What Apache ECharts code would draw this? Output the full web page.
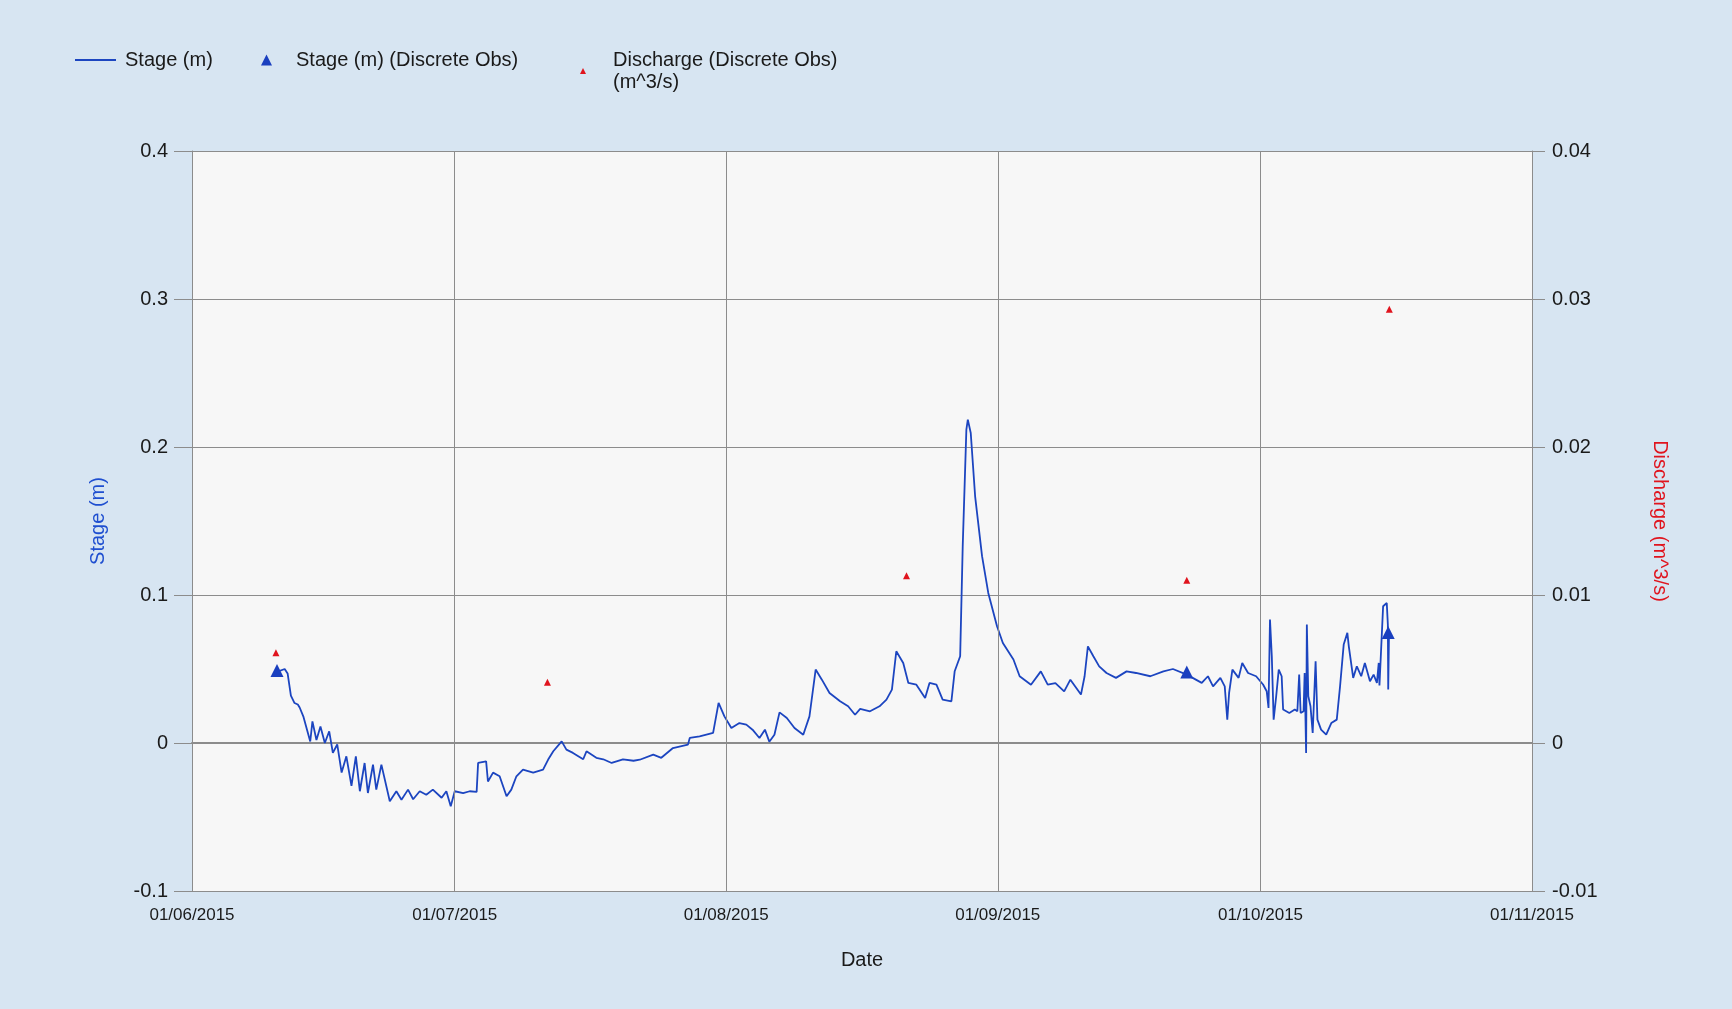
<!DOCTYPE html>
<html>
<head>
<meta charset="utf-8">
<script src="https://cdn.jsdelivr.net/npm/echarts@6/dist/echarts.min.js"></script>
<style>
html,body{margin:0;padding:0;background:#d7e5f2;}
#chart{width:1732px;height:1009px;}
</style>
</head>
<body>
<div id="chart"></div>
<script>
// ---- data ----
const monthTicks = ['2015-06-01 00:00','2015-07-01 00:00','2015-08-01 00:00','2015-09-01 00:00','2015-10-01 00:00','2015-11-01 00:00'];

const stageTimes = [
'2015-06-10 17:00','2015-06-10 19:00','2015-06-11 14:00','2015-06-11 22:00','2015-06-12 07:00','2015-06-12 17:00',
'2015-06-13 02:00','2015-06-13 07:00','2015-06-13 17:00','2015-06-14 12:00','2015-06-14 18:00','2015-06-15 05:00',
'2015-06-15 16:00','2015-06-16 04:00','2015-06-16 16:00','2015-06-17 02:00','2015-06-17 14:00','2015-06-18 02:00',
'2015-06-18 15:00','2015-06-19 05:00','2015-06-19 17:00','2015-06-20 04:00','2015-06-20 17:00','2015-06-21 02:00',
'2015-06-21 16:00','2015-06-22 01:00','2015-06-22 15:00','2015-06-23 14:00','2015-06-24 08:00','2015-06-24 22:00',
'2015-06-25 16:00','2015-06-26 06:00','2015-06-27 00:00','2015-06-27 18:00','2015-06-28 12:00','2015-06-29 12:00',
'2015-06-30 01:00','2015-06-30 13:00','2015-07-01 00:00','2015-07-01 23:00','2015-07-02 17:00','2015-07-03 12:00',
'2015-07-03 16:00','2015-07-04 14:00','2015-07-04 19:00','2015-07-05 09:00','2015-07-06 03:00','2015-07-06 22:00',
'2015-07-07 11:00','2015-07-08 01:00','2015-07-08 19:00','2015-07-09 23:00','2015-07-11 02:00','2015-07-11 16:00',
'2015-07-12 06:00','2015-07-13 05:00','2015-07-13 18:00','2015-07-14 12:00','2015-07-15 16:00','2015-07-16 01:00',
'2015-07-17 04:00','2015-07-17 23:00','2015-07-18 22:00','2015-07-20 05:00','2015-07-21 10:00','2015-07-22 03:00',
'2015-07-23 16:00','2015-07-24 14:00','2015-07-25 22:00','2015-07-27 15:00','2015-07-27 20:00','2015-07-28 23:00',
'2015-07-30 12:00','2015-07-31 03:00','2015-07-31 19:00','2015-08-01 14:00','2015-08-02 12:00','2015-08-03 07:00',
'2015-08-04 00:00','2015-08-04 19:00','2015-08-05 10:00','2015-08-05 22:00','2015-08-06 12:00','2015-08-07 02:00',
'2015-08-07 22:00','2015-08-08 19:00','2015-08-09 19:00','2015-08-10 12:00','2015-08-11 05:00','2015-08-11 22:00',
'2015-08-12 19:00','2015-08-14 00:00','2015-08-14 22:00','2015-08-15 17:00','2015-08-16 07:00','2015-08-17 10:00',
'2015-08-18 12:00','2015-08-19 07:00','2015-08-19 22:00','2015-08-20 10:00','2015-08-21 05:00','2015-08-21 19:00',
'2015-08-22 17:00','2015-08-23 17:00','2015-08-24 05:00','2015-08-25 00:00','2015-08-25 17:00','2015-08-26 17:00',
'2015-08-27 02:00','2015-08-27 17:00','2015-08-28 00:00','2015-08-28 10:00','2015-08-28 14:00','2015-08-28 22:00',
'2015-08-29 10:00','2015-08-30 05:00','2015-08-30 22:00','2015-08-31 22:00','2015-09-01 14:00','2015-09-02 19:00',
'2015-09-03 12:00','2015-09-04 19:00','2015-09-05 22:00','2015-09-06 17:00','2015-09-07 14:00','2015-09-08 14:00',
'2015-09-09 07:00','2015-09-10 12:00','2015-09-10 22:00','2015-09-11 07:00','2015-09-11 22:00','2015-09-12 14:00',
'2015-09-13 10:00','2015-09-14 12:00','2015-09-15 17:00','2015-09-16 19:00','2015-09-18 10:00','2015-09-19 22:00',
'2015-09-21 00:00','2015-09-22 14:00','2015-09-24 07:00','2015-09-25 00:00','2015-09-25 14:00','2015-09-26 10:00',
'2015-09-26 22:00','2015-09-27 05:00','2015-09-27 10:00','2015-09-27 19:00','2015-09-28 12:00','2015-09-28 22:00',
'2015-09-29 14:00','2015-09-30 12:00','2015-10-01 07:00','2015-10-01 17:00','2015-10-01 22:00','2015-10-02 02:00',
'2015-10-02 07:00','2015-10-02 12:00','2015-10-02 19:00','2015-10-03 02:00','2015-10-03 10:00','2015-10-03 14:00',
'2015-10-04 07:00','2015-10-04 22:00','2015-10-05 05:00','2015-10-05 10:00','2015-10-05 14:00','2015-10-05 22:00',
'2015-10-06 01:00','2015-10-06 05:00','2015-10-06 07:00','2015-10-06 11:00','2015-10-06 17:00','2015-10-06 23:00',
'2015-10-07 07:00','2015-10-07 12:00','2015-10-07 22:00','2015-10-08 12:00','2015-10-09 02:00','2015-10-09 17:00',
'2015-10-10 02:00','2015-10-10 12:00','2015-10-10 22:00','2015-10-11 02:00','2015-10-11 14:00','2015-10-12 00:00',
'2015-10-12 12:00','2015-10-12 22:00','2015-10-13 12:00','2015-10-13 22:00','2015-10-14 07:00','2015-10-14 12:00',
'2015-10-14 14:00','2015-10-14 19:00','2015-10-15 00:00','2015-10-15 10:00','2015-10-15 13:00','2015-10-15 14:00',
'2015-10-15 16:00'
];
const stageValues = [
0.048,0.047,0.050,0.047,0.032,0.027,
0.026,0.024,0.018,0.001,0.0146,0.002,
0.0112,0.000,0.0079,-0.0067,-0.001,-0.020,
-0.009,-0.029,-0.009,-0.0326,-0.0135,-0.0338,
-0.0146,-0.0315,-0.0146,-0.0394,-0.0326,-0.0383,
-0.0315,-0.038,-0.0326,-0.035,-0.0315,-0.037,
-0.0326,-0.0427,-0.0326,-0.0338,-0.0326,-0.033,
-0.0135,-0.0124,-0.026,-0.020,-0.0225,-0.036,
-0.0315,-0.0225,-0.018,-0.020,-0.018,-0.0112,
-0.0056,0.0011,-0.0045,-0.0067,-0.011,-0.0056,
-0.010,-0.011,-0.0135,-0.011,-0.012,-0.0113,
-0.0079,-0.010,-0.0034,-0.0011,0.0034,0.0045,
0.0068,0.0271,0.018,0.0101,0.0135,0.0124,
0.009,0.0034,0.009,0.0009,0.0056,0.0207,
0.0169,0.0101,0.0056,0.018,0.0496,0.0428,
0.0338,0.0282,0.0248,0.0191,0.0230,0.0214,
0.0248,0.0293,0.0361,0.0620,0.0541,0.0406,
0.0394,0.0304,0.0406,0.0394,0.0293,0.0282,
0.0485,0.0586,0.1329,0.2117,0.2185,0.2095,
0.1667,0.1262,0.1014,0.0789,0.0676,0.0564,
0.0451,0.0394,0.0484,0.0394,0.0405,0.0349,
0.0428,0.0327,0.0451,0.0653,0.0586,0.0518,
0.0473,0.0440,0.0484,0.0473,0.0451,0.0484,
0.0500,0.0462,0.0406,0.0451,0.0383,0.0440,
0.0383,0.0158,0.0338,0.0496,0.0440,0.0541,
0.0473,0.0451,0.0395,0.0350,0.0237,0.0834,
0.0586,0.0158,0.0316,0.0496,0.0451,0.0226,
0.0203,0.0226,0.0215,0.0462,0.0203,0.0215,
0.0473,-0.0068,0.0800,0.0316,0.0248,0.0068,
0.0552,0.0158,0.0090,0.0056,0.0135,0.0158,
0.0383,0.0665,0.0744,0.0653,0.0440,0.0518,
0.0451,0.0541,0.0417,0.0462,0.0406,0.0541,
0.0389,0.0383,0.0924,0.0946,0.0800,0.0361,
0.0720
];

const stageObsTimes = ['2015-06-10 17:00','2015-09-22 14:00','2015-10-15 14:00'];
const stageObsValues = [0.049, 0.048, 0.0746];

const dischargeTimes = ['2015-06-10 14:00','2015-07-11 14:00','2015-08-21 14:00','2015-09-22 14:00','2015-10-15 17:00'];
const dischargeValues = [0.0061, 0.0041, 0.0113, 0.0110, 0.0293];

// ---- chart ----
const toTs = s => { const m = s.match(/(\d+)-(\d+)-(\d+) (\d+):(\d+)/); return new Date(+m[1], +m[2]-1, +m[3], +m[4], +m[5]).getTime(); };
const zip = (t, v) => t.map((d, i) => [toTs(d), v[i]]);
const tickValues = monthTicks.map(toTs);
const pad = n => (n < 10 ? '0' : '') + n;
const fmtDate = v => { const d = new Date(v); return pad(d.getDate()) + '/' + pad(d.getMonth()+1) + '/' + d.getFullYear(); };

const FONT = 'Liberation Sans, Arial, sans-serif';
const chart = echarts.init(document.getElementById('chart'), null, {renderer: 'canvas'});
const legendText = {fontFamily: FONT, fontSize: 20, color: '#1a1a1a'};
const option = {
  backgroundColor: '#d7e5f2',
  animation: false,
  legend: [
    {data: ['Stage (m)'], left: 75, top: 50, itemWidth: 41, itemHeight: 2, padding: 0, icon: 'rect',
     itemStyle: {color: '#1c45c0'},
     textStyle: Object.assign({padding: [0,0,0,4]}, legendText)},
    {data: ['Stage (m) (Discrete Obs)'], left: 261, top: 50, itemWidth: 11, itemHeight: 11, padding: 0, icon: 'triangle',
     itemStyle: {color: '#1a3fbf', opacity: 1},
     textStyle: Object.assign({padding: [0,0,0,19]}, legendText)},
    {data: ['Discharge (Discrete Obs)\n(m^3/s)'], left: 580, top: 49, itemWidth: 6, itemHeight: 6, padding: 0, icon: 'triangle',
     itemStyle: {color: '#e0141e', opacity: 1},
     textStyle: Object.assign({padding: [0,0,0,22], lineHeight: 22}, legendText)}
  ],
  grid: {left: 192, right: 200, top: 151, bottom: 118, show: true, backgroundColor: '#f7f7f7', borderWidth: 0, containLabel: false},
  xAxis: {
    type: 'value',
    min: tickValues[0], max: tickValues[tickValues.length-1],
    name: 'Date', nameLocation: 'middle', nameGap: 59,
    nameTextStyle: {fontFamily: FONT, fontSize: 20, color: '#1a1a1a'},
    axisLine: {show: true, lineStyle: {color: '#8c8c8c', width: 2}},
    axisTick: {show: true, customValues: tickValues, length: 10, lineStyle: {color: '#8c8c8c'}},
    axisLabel: {customValues: tickValues, formatter: fmtDate, margin: 16,
      fontFamily: FONT, fontSize: 17, color: '#1a1a1a'},
    splitLine: {show: false}
  },
  yAxis: [
    {
      type: 'value', min: -0.1, max: 0.4, interval: 0.1,
      name: 'Stage (m)', nameLocation: 'middle', nameGap: 84, nameRotate: 90,
      nameTextStyle: {fontFamily: FONT, fontSize: 20, color: '#1f4fd0'},
      axisLine: {show: true, lineStyle: {color: '#8c8c8c', width: 1}},
      axisTick: {show: true, length: 18, lineStyle: {color: '#8c8c8c'}},
      axisLabel: {margin: 24, fontFamily: FONT, fontSize: 20, color: '#1a1a1a',
        formatter: v => String(Math.round(v*10)/10)},
      splitLine: {show: true, lineStyle: {color: '#8c8c8c', width: 1}}
    },
    {
      type: 'value', min: -0.01, max: 0.04, interval: 0.01, position: 'right',
      name: 'Discharge (m^3/s)', nameLocation: 'middle', nameGap: 118, nameRotate: -90,
      nameTextStyle: {fontFamily: FONT, fontSize: 20, color: '#e0141e'},
      axisLine: {show: true, lineStyle: {color: '#8c8c8c', width: 1}},
      axisTick: {show: true, length: 13, lineStyle: {color: '#8c8c8c'}},
      axisLabel: {margin: 20, fontFamily: FONT, fontSize: 20, color: '#1a1a1a',
        formatter: v => String(Math.round(v*100)/100)},
      splitLine: {show: false}
    }
  ],
  series: [
    {name: 'Stage (m)', type: 'line', yAxisIndex: 0, symbol: 'none', data: zip(stageTimes, stageValues),
     lineStyle: {color: '#1c45c0', width: 1.8}, itemStyle: {color: '#1c45c0'}, z: 2,
     markLine: {silent: true, symbol: 'none', label: {show: false}, animation: false,
       lineStyle: {color: '#8c8c8c', width: 1, type: 'solid'},
       data: tickValues.slice(1, -1).map(t => ({xAxis: t}))}},
    {name: 'Stage (m) (Discrete Obs)', type: 'scatter', yAxisIndex: 0, symbol: 'triangle', symbolSize: 13,
     data: zip(stageObsTimes, stageObsValues), itemStyle: {color: '#1a3fbf', opacity: 1}, z: 4},
    {name: 'Discharge (Discrete Obs)\n(m^3/s)', type: 'scatter', yAxisIndex: 1, symbol: 'triangle', symbolSize: 7,
     data: zip(dischargeTimes, dischargeValues), itemStyle: {color: '#e0141e', opacity: 1}, z: 4}
  ]
};
chart.setOption(option);
</script>
</body>
</html>
